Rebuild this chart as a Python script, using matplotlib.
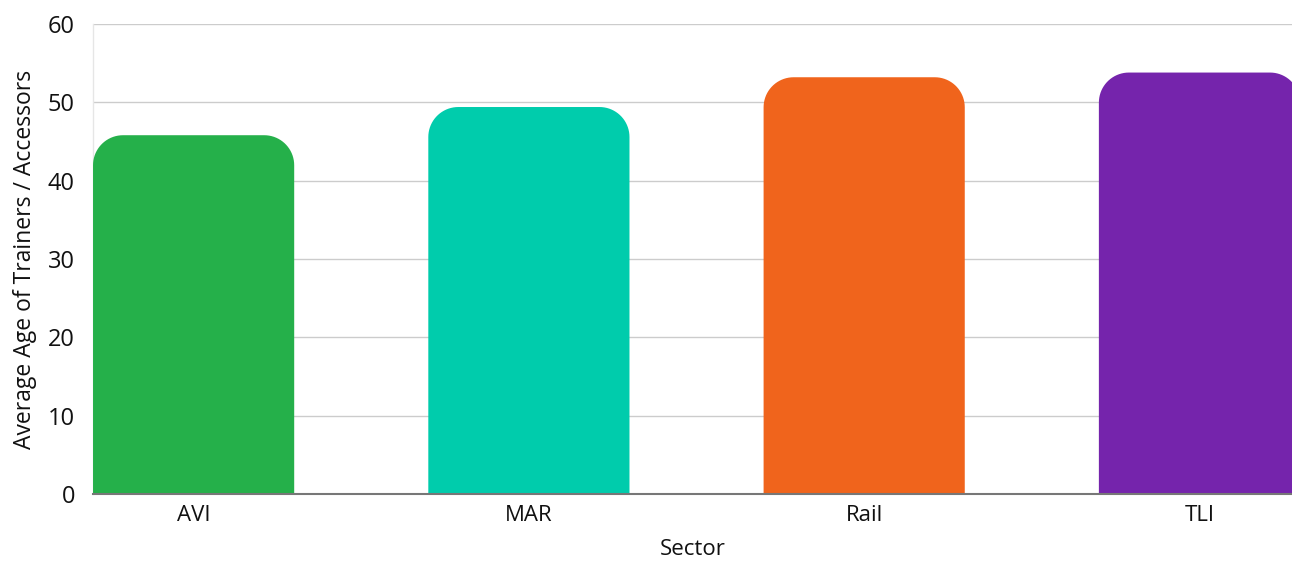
import numpy as np
import matplotlib
matplotlib.use("Agg")
import matplotlib.pyplot as plt
from matplotlib.patches import PathPatch
from matplotlib.path import Path

sectors = ["AVI", "MAR", "Rail", "TLI"]
avg_age = [45.8, 49.4, 53.2, 53.8]
colors = ["#25B04A", "#00CCAC", "#F0641C", "#7524AC"]
y_ticks = [0, 10, 20, 30, 40, 50, 60]

plt.rcParams["font.family"] = ["Open Sans", "DejaVu Sans"]


def rounded_bar(ax, x, h, width, rx, ry, color):
    # bar with rounded top corners, radii given in data units
    left, right = x - width / 2, x + width / 2
    t = np.linspace(0, np.pi / 2, 20)
    verts = [(left, 0), (left, h - ry)]
    verts += [(left + rx - rx * np.cos(a), h - ry + ry * np.sin(a)) for a in t]
    verts += [(right - rx + rx * np.sin(a), h - ry + ry * np.cos(a)) for a in t]
    verts += [(right, 0), (left, 0)]
    codes = [Path.MOVETO] + [Path.LINETO] * (len(verts) - 2) + [Path.CLOSEPOLY]
    patch = PathPatch(Path(verts, codes), facecolor=color, edgecolor="none", zorder=3)
    ax.add_patch(patch)


fig = plt.figure(figsize=(12.92, 5.63), dpi=100)
ax = fig.add_axes([0.072, 0.1226, 0.928, 0.8348])

xs = np.arange(len(sectors))
bar_w = 0.6
ax.set_xlim(-0.3, 3.276)
ax.set_ylim(0, 60)

# corner radius ~30px converted into data units on each axis
px_x = (ax.get_xlim()[1] - ax.get_xlim()[0]) / (0.928 * 1292)
px_y = 60 / (0.8348 * 563)
for x, h, c in zip(xs, avg_age, colors):
    rounded_bar(ax, x, h, bar_w, 30 * px_x, 30 * px_y, c)

ax.set_yticks(y_ticks)
ax.set_xticks(xs)
ax.set_xticklabels(sectors)
ax.tick_params(axis="y", length=0, pad=13, labelsize=17, colors="#111111")
ax.tick_params(axis="x", length=0, pad=8, labelsize=16, colors="#111111")
ax.yaxis.grid(True, color="#cccccc", linewidth=1, zorder=0)
ax.set_axisbelow(True)

for s in ["top", "right"]:
    ax.spines[s].set_visible(False)
ax.spines["left"].set_color("#e6e6e6")
ax.spines["left"].set_linewidth(1)
ax.spines["bottom"].set_color("#777777")
ax.spines["bottom"].set_linewidth(1.5)
ax.spines["bottom"].set_zorder(4)

ax.set_xlabel("Sector", fontsize=16, color="#111111", labelpad=9)
ax.set_ylabel("Average Age of Trainers / Accessors", fontsize=16.5, color="#111111", labelpad=8)

fig.savefig("out.png", dpi=100)
